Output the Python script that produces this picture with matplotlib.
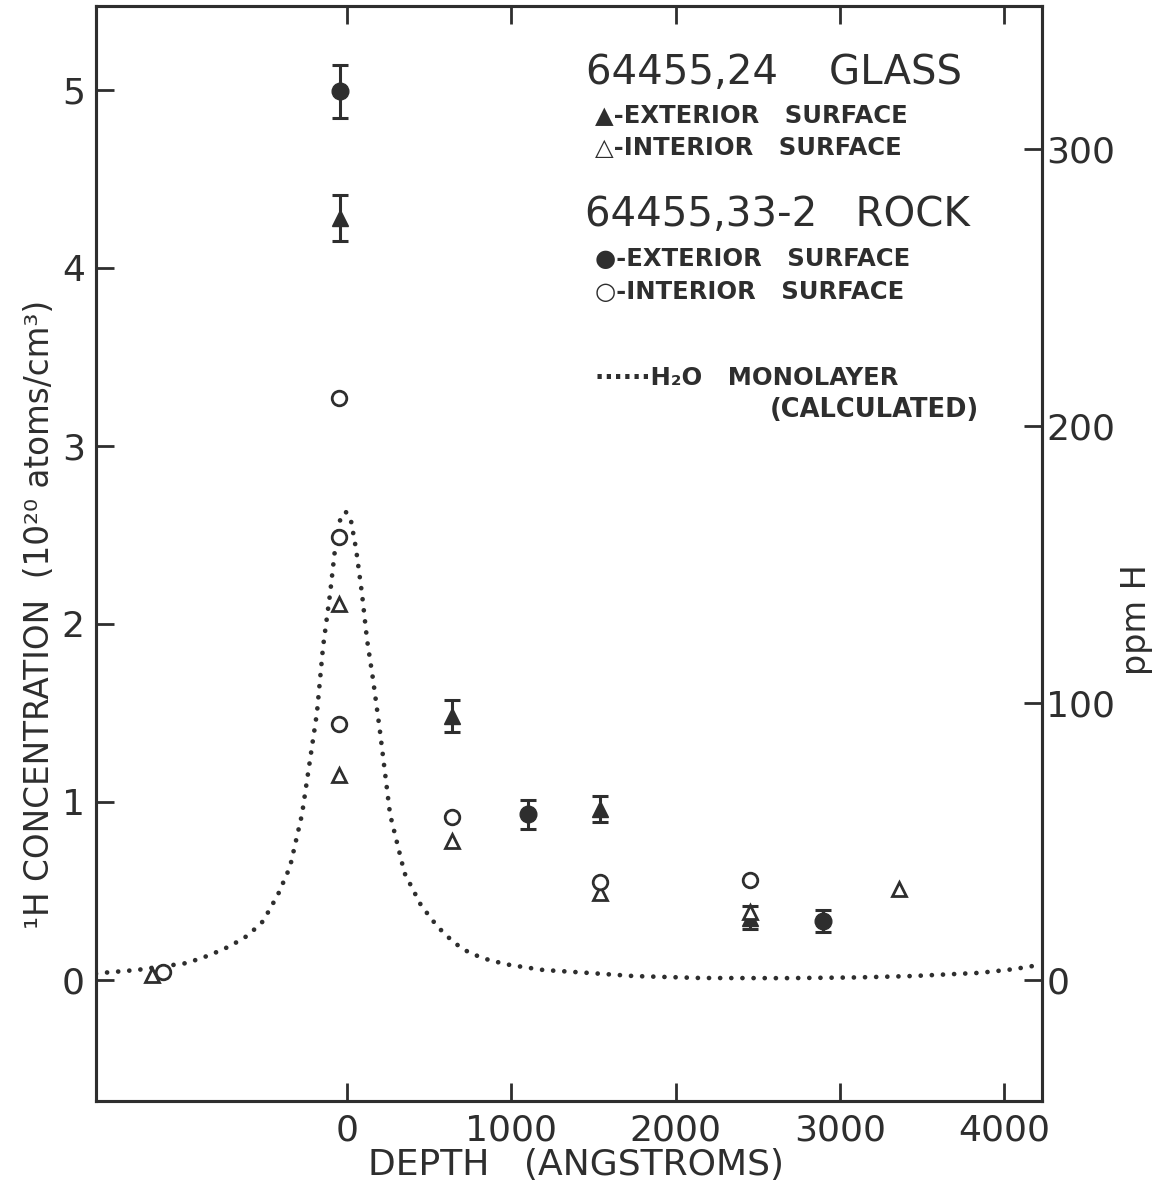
import matplotlib
matplotlib.use("Agg")
import matplotlib.pyplot as plt

# ---------------- data ----------------
# 64455,24 glass, exterior surface (filled triangles, with error bars)
glass_ext_depth = [-40, 640, 1540, 2450]
glass_ext_conc = [4.28, 1.48, 0.96, 0.35]
glass_ext_err = [0.13, 0.09, 0.075, 0.065]

# 64455,24 glass, interior surface (open triangles)
glass_int_depth = [-1190, -50, -50, 640, 1540, 2450, 3360]
glass_int_conc = [0.03, 2.11, 1.15, 0.78, 0.49, 0.38, 0.51]

# 64455,33-2 rock, exterior surface (filled circles, with error bars)
rock_ext_depth = [-40, 1100, 2900]
rock_ext_conc = [4.99, 0.93, 0.33]
rock_ext_err = [0.15, 0.08, 0.06]

# 64455,33-2 rock, interior surface (open circles)
rock_int_depth = [-1120, -50, -50, -50, 640, 1540, 2450]
rock_int_conc = [0.045, 3.27, 2.49, 1.44, 0.915, 0.55, 0.56]

mono_depth = [-1528, -1485, -1278, -974, -834, -712, -603, -511, -420, -347,
              -274, -183, -146, -103, -73, -43, -8, 24, 55, 91, 122, 158,
              200, 262, 350, 450, 550, 650, 749, 870, 992, 1193, 1461, 1741,
              2148, 2654, 3100, 3445, 3853, 4053, 4187, 4230]
mono_conc = [0.035, 0.04, 0.056, 0.095, 0.14, 0.19, 0.25, 0.33, 0.48, 0.635,
             0.93, 1.50, 1.87, 2.17, 2.42, 2.58, 2.63, 2.58, 2.42, 2.17, 1.91,
             1.69, 1.40, 0.93, 0.60, 0.42, 0.30, 0.21, 0.15, 0.11, 0.084,
             0.056, 0.04, 0.022, 0.011, 0.010, 0.014, 0.022, 0.04, 0.06,
             0.08, 0.09]

x_ticks = [0, 1000, 2000, 3000, 4000]
y_ticks = [0, 1, 2, 3, 4, 5]
ppm_ticks = [0, 100, 200, 300]
ppm_per_unit = 64.3

# ---------------- figure ----------------
INK = "#2e2e2e"
plt.rcParams["font.family"] = ["DejaVu Sans"]
fig = plt.figure(figsize=(11.62, 11.93), dpi=100)
ax = fig.add_axes([0.0826, 0.0771, 0.8141, 0.9179])

xlim = (-1528, 4230)
ylim = (-0.68, 5.47)
ax.set_xlim(*xlim)
ax.set_ylim(*ylim)

# monolayer curve
ax.plot(mono_depth, mono_conc, color=INK, lw=3.4,
        linestyle=(0, (0.01, 2.35)), dash_capstyle="round", zorder=2)

# data
ax.errorbar(glass_ext_depth, glass_ext_conc, yerr=glass_ext_err, fmt="^",
            ms=11, mfc=INK, mec=INK, ecolor=INK, elinewidth=2.2,
            capsize=6, capthick=2.2, zorder=4)
ax.errorbar(rock_ext_depth, rock_ext_conc, yerr=rock_ext_err, fmt="o",
            ms=12, mfc=INK, mec=INK, ecolor=INK, elinewidth=2.2,
            capsize=6, capthick=2.2, zorder=4)
ax.plot(glass_int_depth, glass_int_conc, "^", ms=10, mfc="white", mec=INK,
        mew=2.0, zorder=5)
ax.plot(rock_int_depth, rock_int_conc, "o", ms=10.5, mfc="white", mec=INK,
        mew=2.0, zorder=5)

# axes styling
for s in ax.spines.values():
    s.set_linewidth(2.2)
    s.set_color(INK)
ax.set_xticks(x_ticks)
ax.set_xticklabels([str(v) for v in x_ticks])
ax.set_yticks(y_ticks)
ax.set_yticklabels([str(v) for v in y_ticks])
ax.tick_params(axis="both", direction="in", length=13, width=2.0,
               colors=INK, labelsize=26, labelcolor=INK)
ax.tick_params(axis="x", top=True, bottom=True, pad=9)
ax.tick_params(axis="y", left=True, right=False, pad=8)

ax2 = ax.twinx()
ax2.set_ylim(ylim[0] * ppm_per_unit, ylim[1] * ppm_per_unit)
ax2.set_yticks(ppm_ticks)
ax2.set_yticklabels([str(v) for v in ppm_ticks])
ax2.tick_params(axis="y", direction="in", length=13, width=2.0, colors=INK,
                labelsize=26, labelcolor=INK, pad=3)
for s in ax2.spines.values():
    s.set_linewidth(2.2)
    s.set_color(INK)

ax.set_xlabel("DEPTH   (ANGSTROMS)", fontsize=26, color=INK)
ax.xaxis.set_label_coords(0.507, -0.043)
ax.set_ylabel("¹H CONCENTRATION  (10²⁰ atoms/cm³)", fontsize=23.5, color=INK)
ax.yaxis.set_label_coords(-0.042, 0.444)
ax2.set_ylabel("ppm H", fontsize=24, color=INK, rotation=90)
ax2.yaxis.set_label_coords(1.083, 0.44)

# legend text block
def t(x, y, s, size, weight="normal"):
    ax.text(x, y, s, transform=ax.transAxes, fontsize=size, color=INK,
            fontweight=weight, ha="left", va="center")

t(0.518, 0.939, "64455,24    GLASS", 29)
t(0.528, 0.900, "▲-EXTERIOR   SURFACE", 17.5, "bold")
t(0.528, 0.870, "△-INTERIOR   SURFACE", 17.5, "bold")
t(0.517, 0.809, "64455,33-2   ROCK", 29)
t(0.528, 0.769, "●-EXTERIOR   SURFACE", 17.5, "bold")
t(0.528, 0.739, "○-INTERIOR   SURFACE", 17.5, "bold")
t(0.528, 0.660, "······H₂O   MONOLAYER", 17.5, "bold")
t(0.712, 0.631, "(CALCULATED)", 18.5, "bold")

fig.savefig("out.png", dpi=100)
